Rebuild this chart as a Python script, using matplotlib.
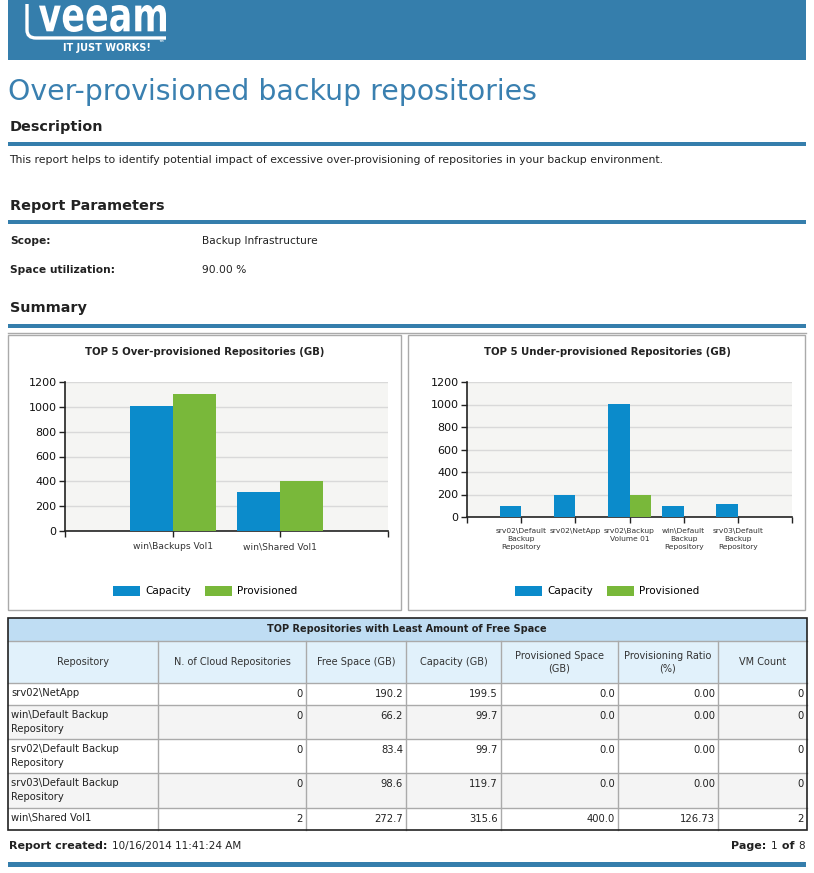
import matplotlib
matplotlib.use("Agg")
import matplotlib.pyplot as plt
from matplotlib.patches import Rectangle, PathPatch
from matplotlib.path import Path
from matplotlib.textpath import TextPath
from matplotlib.font_manager import FontProperties
from matplotlib.transforms import Affine2D
import numpy as np

# ---------------- data ----------------
over_names = ["win\\Backups Vol1", "win\\Shared Vol1"]
over_capacity = [1007.4, 315.6]
over_provisioned = [1100.0, 400.0]

under_names = ["srv02\\Default\nBackup\nRepository", "srv02\\NetApp",
               "srv02\\Backup\nVolume 01", "win\\Default\nBackup\nRepository",
               "srv03\\Default\nBackup\nRepository"]
under_capacity = [99.7, 199.5, 1004.5, 99.7, 119.7]
under_provisioned = [0.0, 0.0, 200.0, 0.0, 0.0]

y_ticks = [0, 200, 400, 600, 800, 1000, 1200]

table_title = "TOP Repositories with Least Amount of Free Space"
table_cols = ["Repository", "N. of Cloud Repositories", "Free Space (GB)", "Capacity (GB)",
              "Provisioned Space\n(GB)", "Provisioning Ratio\n(%)", "VM Count"]
table_repos = ["srv02\\NetApp", "win\\Default Backup\nRepository",
               "srv02\\Default Backup\nRepository", "srv03\\Default Backup\nRepository",
               "win\\Shared Vol1"]
table_cloud = [0, 0, 0, 0, 2]
table_free = [190.2, 66.2, 83.4, 98.6, 272.7]
table_capacity = [199.5, 99.7, 99.7, 119.7, 315.6]
table_prov = [0.0, 0.0, 0.0, 0.0, 400.0]
table_ratio = [0.00, 0.00, 0.00, 0.00, 126.73]
table_vms = [0, 0, 0, 0, 2]

params = [("Scope:", "Backup Infrastructure"), ("Space utilization:", "90.00 %")]

# ---------------- style ----------------
W, H = 814, 873
BLUE_BAND = "#357eac"
TITLE_BLUE = "#3a80b0"
CAP = "#0b8bcb"
PROV = "#79b83a"
TXT = "#222222"
FONT = "DejaVu Sans"

fig = plt.figure(figsize=(W / 100, H / 100), dpi=100)
bg = fig.add_axes([0, 0, 1, 1])
bg.set_xlim(0, W)
bg.set_ylim(H, 0)
bg.axis("off")


def rect(x0, y0, x1, y1, fc, ec="none", lw=0, z=1):
    bg.add_patch(Rectangle((x0, y0), x1 - x0, y1 - y0, facecolor=fc, edgecolor=ec, linewidth=lw, zorder=z))


def txt(x, y, s, size=8, weight="normal", color=TXT, ha="left", va="center", **kw):
    return bg.text(x, y, s, fontsize=size, fontweight=weight, color=color, ha=ha, va=va,
                   family=FONT, zorder=5, **kw)


# header band + logo
rect(8, 0, 806, 60, BLUE_BAND)
tp = TextPath((0, 0), "veeam", size=10, prop=FontProperties(family=FONT, weight="bold"))
ext = tp.get_extents()
lx0, lx1, ly0, ly1 = 39, 166, 5, 32
tr = (Affine2D().translate(-ext.x0, -ext.y0)
      .scale((lx1 - lx0) / ext.width, -(ly1 - ly0) / ext.height)
      .translate(lx0, ly1))
bg.add_patch(PathPatch(tr.transform_path(tp), facecolor="white", edgecolor="none", zorder=5))
logo = Path([(27, 4), (27, 30), (27, 38), (36, 38), (166, 38)],
            [Path.MOVETO, Path.LINETO, Path.CURVE3, Path.CURVE3, Path.LINETO])
bg.add_patch(PathPatch(logo, facecolor="none", edgecolor="white", lw=2.4, zorder=5))
txt(63, 48, "IT JUST WORKS!", size=7.0, weight="bold", color="white")
txt(158, 44, "™", size=4, weight="bold", color="white")

# title
txt(8, 92, "Over-provisioned backup repositories", size=20.4, color=TITLE_BLUE)

# sections
def section(y, label, line_y):
    txt(10, y, label, size=10.4, weight="bold", color="#222222")
    rect(8, line_y, 806, line_y + 4, BLUE_BAND)

section(127, "Description", 142)
txt(9, 160, "This report helps to identify potential impact of excessive over-provisioning of "
            "repositories in your backup environment.", size=7.8)
section(206, "Report Parameters", 220)
for i, (k, v) in enumerate(params):
    yy = 241 + i * 29
    txt(10, yy, k, size=7.7, weight="bold")
    txt(202, yy, v, size=7.7)
section(308, "Summary", 324)
bg.plot([8, 806], [333, 333], color="#aaaaaa", lw=1, zorder=2)

# chart panels
rect(8, 335, 401, 610, "white", ec="#aaaaaa", lw=1)
rect(408, 335, 805, 610, "white", ec="#aaaaaa", lw=1)
txt(205, 352, "TOP 5 Over-provisioned Repositories (GB)", size=7.3, weight="bold", ha="center")
txt(607, 352, "TOP 5 Under-provisioned Repositories (GB)", size=7.3, weight="bold", ha="center")


def fx(px):
    return px / W


def fy(py):
    return 1 - py / H


def make_chart(x0, x1, y0, y1, names, cap, prov, label_size):
    ax = fig.add_axes([fx(x0), fy(y1), fx(x1) - fx(x0), fy(y0) - fy(y1)])
    ax.set_facecolor("#f5f5f3")
    n = len(names)
    pos = np.arange(1, n + 1)
    b1 = ax.bar(pos - 0.2, cap, width=0.4, color=CAP, zorder=3, label="Capacity")
    b2 = ax.bar(pos + 0.2, prov, width=0.4, color=PROV, zorder=3, label="Provisioned")
    ax.set_xlim(0, n + 1)
    ax.set_ylim(0, 1200)
    ax.set_yticks(y_ticks)
    ax.set_yticklabels([str(t) for t in y_ticks], fontsize=8, color="#111111", family=FONT)
    ax.set_xticks(list(pos))
    ax.set_xticklabels(names, fontsize=label_size, color="#333333", family=FONT, linespacing=1.35)
    ax.set_xticks([0, n + 1], minor=True)
    ax.tick_params(axis="x", which="both", length=4, width=1, color="#222222", pad=4)
    ax.tick_params(axis="y", length=4, width=1, color="#222222", pad=2)
    ax.grid(axis="y", color="#d9d9d9", lw=1, zorder=0)
    for s in ["top", "right"]:
        ax.spines[s].set_visible(False)
    for s in ["left", "bottom"]:
        ax.spines[s].set_color("#222222")
        ax.spines[s].set_linewidth(1.2)
    return ax, b1, b2


axL, l1, l2 = make_chart(65, 388, 382, 531, over_names, over_capacity, over_provisioned, 6.6)
axR, r1, r2 = make_chart(467, 792, 382, 517, under_names, under_capacity, under_provisioned, 5.4)

for ax, h1, h2, cx in [(axL, l1, l2, 205), (axR, r1, r2, 607)]:
    ax.legend([h1, h2], ["Capacity", "Provisioned"], loc="center", ncol=2,
              bbox_to_anchor=(fx(cx), fy(591)), bbox_transform=fig.transFigure,
              frameon=False, handlelength=2.6, handleheight=1.1,
              columnspacing=1.3, handletextpad=0.5, prop={"family": FONT, "size": 7.5})

# table
col_x = [8, 158, 306, 406, 501, 618, 718, 807]
row_y = [618, 641, 683, 705, 739, 773, 808, 830]
rect(8, row_y[0], 807, row_y[1], "#bfddf3")
rect(8, row_y[1], 807, row_y[2], "#e1f1fb")
for i in range(5):
    rect(8, row_y[i + 2], 807, row_y[i + 3], "#f4f4f4" if i % 2 == 1 else "white")
txt(407, (row_y[0] + row_y[1]) / 2, table_title, size=7, weight="bold", ha="center")
for j, c in enumerate(table_cols):
    txt((col_x[j] + col_x[j + 1]) / 2, (row_y[1] + row_y[2]) / 2, c, size=7, ha="center",
        color="#333333", multialignment="center", linespacing=1.35)
gray = "#aaaaaa"
for yv in row_y[1:-1]:
    bg.plot([8, 807], [yv, yv], color=gray, lw=1, zorder=4)
for xv in col_x[1:-1]:
    bg.plot([xv, xv], [row_y[1], row_y[-1]], color=gray, lw=1, zorder=4)
bg.add_patch(Rectangle((8, row_y[0]), 799, row_y[-1] - row_y[0], facecolor="none",
                       edgecolor="#222222", lw=1.2, zorder=6))

cells = list(zip(table_repos, table_cloud, table_free, table_capacity, table_prov, table_ratio, table_vms))
for i, row in enumerate(cells):
    ytop = row_y[i + 2]
    yl = ytop + 11
    txt(col_x[0] + 3, ytop + 5, row[0], size=7.2, va="top", linespacing=1.45)
    vals = [f"{row[1]}", f"{row[2]:.1f}", f"{row[3]:.1f}", f"{row[4]:.1f}", f"{row[5]:.2f}", f"{row[6]}"]
    for j, v in enumerate(vals):
        txt(col_x[j + 2] - 3, yl, v, size=7.2, ha="right")

# footer
t = txt(9, 846, "Report created: ", size=8, weight="bold")
fig.canvas.draw()
r = fig.canvas.get_renderer()
bb = t.get_window_extent(renderer=r)
txt(bb.x1 + 1, 846, "10/16/2014 11:41:24 AM", size=7.5)
parts = [("8", "normal"), (" of ", "bold"), ("1", "normal"), ("Page: ", "bold")]
xr = 805
for s, w in parts:
    tt = txt(xr, 846, s, size=8 if w == "bold" else 7.5, weight=w, ha="right")
    xr = tt.get_window_extent(renderer=r).x0 - 0.5
rect(8, 862, 806, 867, BLUE_BAND)

fig.savefig("out.png", dpi=100)
